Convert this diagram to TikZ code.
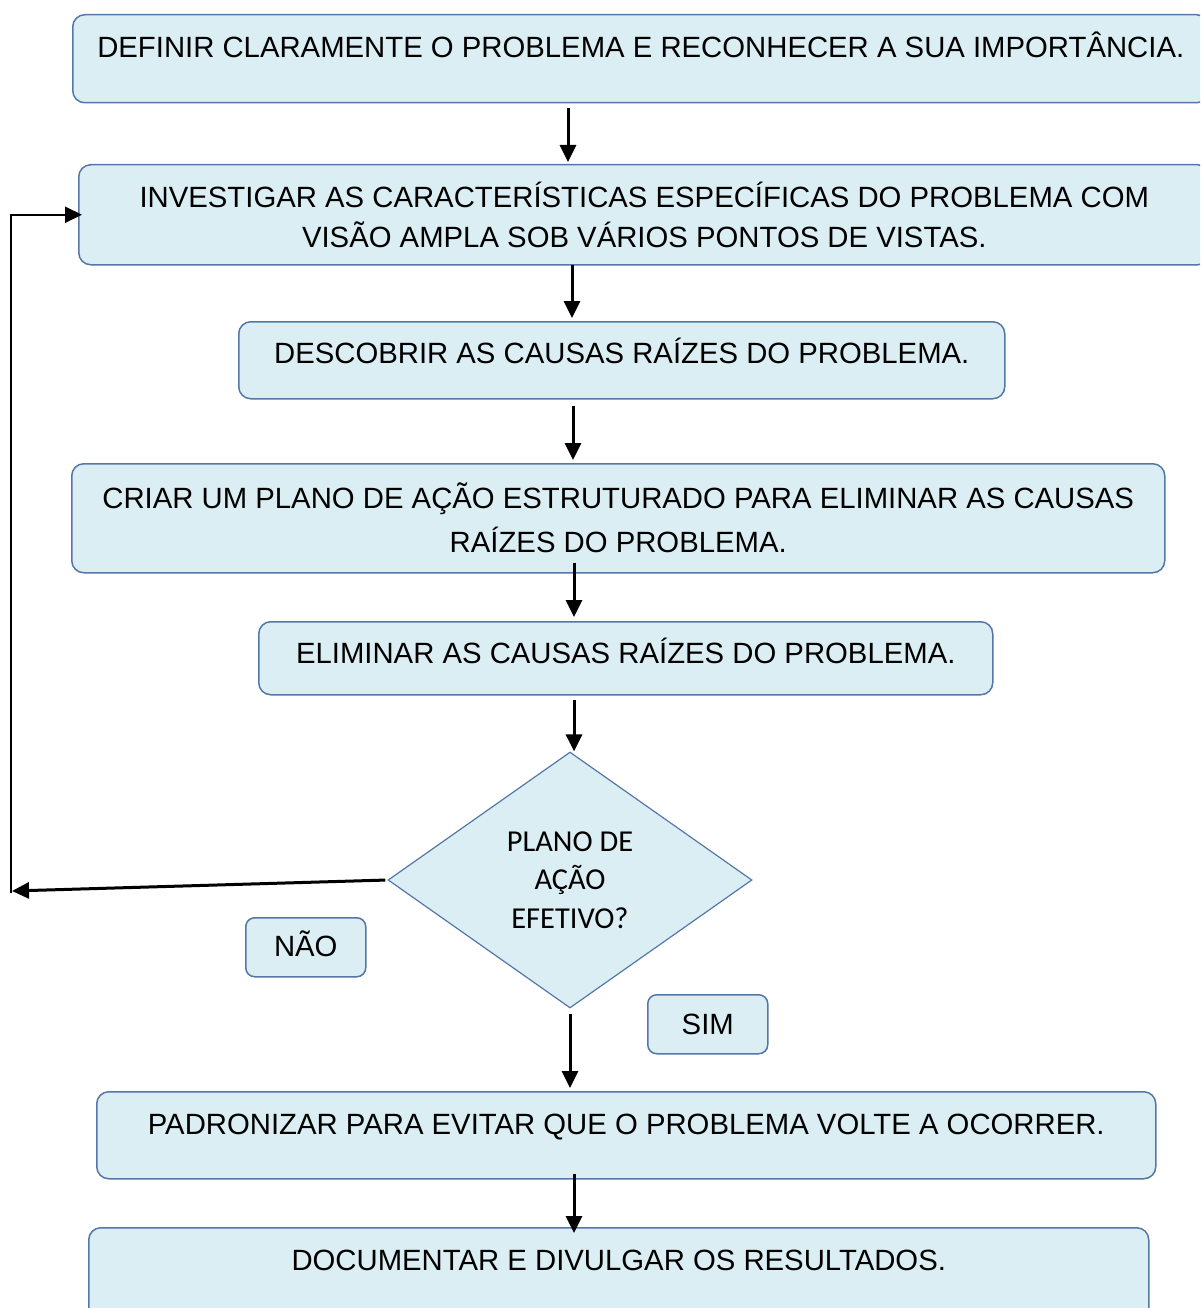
\documentclass[tikz,border=0pt]{standalone}
\usepackage{fontspec}
\setmainfont{Liberation Sans}
\newfontfamily\diafont{Carlito}
\usetikzlibrary{shapes.geometric,arrows.meta}
\definecolor{boxfill}{HTML}{DAEEF3}
\definecolor{boxline}{HTML}{5577A8}

\begin{document}
\begin{tikzpicture}[x=1pt, y=-1pt,
	box/.style={draw=boxline, line width=1.5pt, fill=boxfill, rounded corners=12pt, anchor=north west, inner sep=0pt, font=\fontsize{29.3}{40}\selectfont},
	small/.style={box, rounded corners=9pt},
	choice/.style={diamond, draw=boxline, line width=1.2pt, fill=boxfill, inner sep=0pt, minimum width=364pt, minimum height=256pt, align=center, font=\diafont\fontsize{30.4}{38.5}\selectfont},
	arr/.style={-{Triangle[length=17pt, width=16pt]}, line width=3pt}
	]

		\useasboundingbox (0,0) rectangle (1200,1308);
		\clip (0,0) rectangle (1200,1308);

		\node[box, minimum width=1136pt, text height=42.5pt, text depth=45.5pt] (def) at (72,14)
			{DEFINIR CLARAMENTE O PROBLEMA E RECONHECER A SUA IMPORTÂNCIA.};
		\node[box, minimum width=1131pt, minimum height=100pt, align=center] (inv) at (78,164)
			{INVESTIGAR AS CARACTERÍSTICAS ESPECÍFICAS DO PROBLEMA COM\\VISÃO AMPLA SOB VÁRIOS PONTOS DE VISTAS.};
		\node[box, minimum width=766pt, text height=42pt, text depth=35pt] (desc) at (238,321)
			{DESCOBRIR AS CAUSAS RAÍZES DO PROBLEMA.};
		\node[box, minimum width=1093pt, minimum height=109pt, align=center] (plan) at (71,463)
			{CRIAR UM PLANO DE AÇÃO ESTRUTURADO PARA ELIMINAR AS CAUSAS\\[4pt]RAÍZES DO PROBLEMA.};
		\node[box, minimum width=734pt, text height=42pt, text depth=31pt] (elim) at (258,621)
			{ELIMINAR AS CAUSAS RAÍZES DO PROBLEMA.};
		\node[choice] (efet) at (570,880) {PLANO DE\\AÇÃO\\EFETIVO?};
		\node[small, minimum width=120pt, text height=39pt, text depth=20pt] (nao) at (245,917) {NÃO};
		\node[small, minimum width=120pt, text height=40pt, text depth=19pt] (sim) at (647,994) {SIM};
		\node[box, minimum width=1059pt, text height=43pt, text depth=44pt] (pad) at (96,1091)
			{PADRONIZAR PARA EVITAR QUE O PROBLEMA VOLTE A OCORRER.};
		\node[box, minimum width=1060pt, text height=43pt, text depth=55pt] (doc) at (88,1227)
			{DOCUMENTAR E DIVULGAR OS RESULTADOS.};

		\coordinate (c1) at (568,0);
		\coordinate (c2) at (572,0);
		\coordinate (c3) at (573,0);
		\coordinate (c4) at (574,0);
		\coordinate (c5) at (570,0);
		\coordinate (back) at (12,891);
		\coordinate (up) at (11,893);

		\draw[arr, shorten <=5pt, shorten >=2pt] (def.south -| c1) -- (inv.north -| c1);
		\draw[arr, shorten <=-1pt, shorten >=3pt] (inv.south -| c2) -- (desc.north -| c2);
		\draw[arr, shorten <=6pt, shorten >=3pt] (desc.south -| c3) -- (plan.north -| c3);
		\draw[arr, shorten <=-11pt, shorten >=4pt] (plan.south -| c4) -- (elim.north -| c4);
		\draw[arr, shorten <=4pt] (elim.south -| c4) -- (efet.north -| c4);
		\draw[arr, shorten <=5pt, shorten >=3pt] (efet.south -| c5) -- (pad.north -| c5);
		\draw[arr, shorten <=-6pt, shorten >=-6pt] (pad.south -| c4) -- (doc.north -| c4);

		\draw[arr, shorten <=2pt] (efet.west) -- (back);
		\draw[arr, line width=2pt, shorten >=-4pt] (up) |- (inv.west);

\end{tikzpicture}
\end{document}
